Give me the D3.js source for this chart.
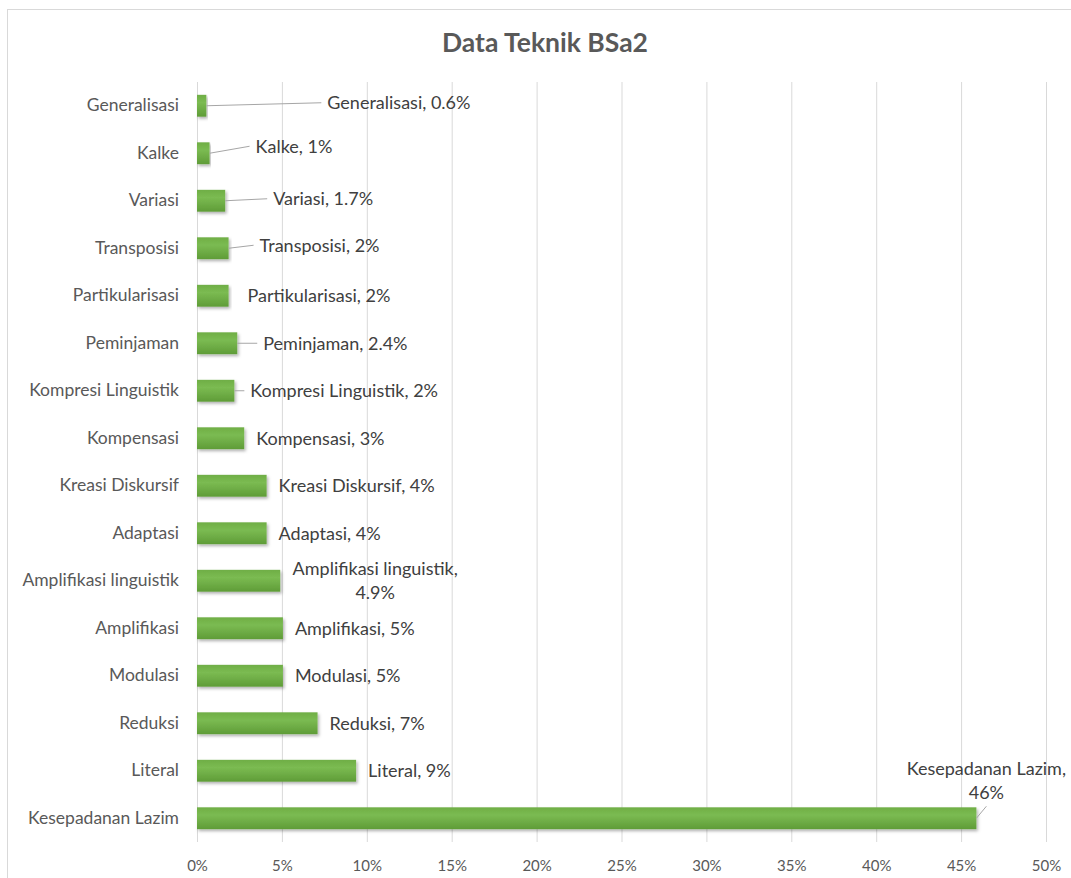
<!DOCTYPE html>
<html>
<head>
<meta charset="utf-8">
<script src="https://cdn.jsdelivr.net/npm/d3@7"></script>
<style>
  body { margin: 0; background: #fff; }
  svg { display: block; font-family: Lato, "Open Sans", sans-serif; }
</style>
</head>
<body>
<div id="container"></div>
<script>
/* DATA */
const categories = ["Generalisasi", "Kalke", "Variasi", "Transposisi", "Partikularisasi",
  "Peminjaman", "Kompresi Linguistik", "Kompensasi", "Kreasi Diskursif", "Adaptasi",
  "Amplifikasi linguistik", "Amplifikasi", "Modulasi", "Reduksi", "Literal", "Kesepadanan Lazim"];
const values = [0.55, 0.74, 1.66, 1.86, 1.86, 2.37, 2.2, 2.78, 4.1, 4.1, 4.9, 5.06, 5.06, 7.1, 9.37, 45.9];
const labelText = [["Generalisasi, 0.6%"], ["Kalke, 1%"], ["Variasi, 1.7%"], ["Transposisi, 2%"],
  ["Partikularisasi, 2%"], ["Peminjaman, 2.4%"], ["Kompresi Linguistik, 2%"], ["Kompensasi, 3%"],
  ["Kreasi Diskursif, 4%"], ["Adaptasi, 4%"], ["Amplifikasi linguistik,", "4.9%"], ["Amplifikasi, 5%"],
  ["Modulasi, 5%"], ["Reduksi, 7%"], ["Literal, 9%"], ["Kesepadanan Lazim,", "46%"]];
const tickValues = [0, 5, 10, 15, 20, 25, 30, 35, 40, 45, 50];

/* LAYOUT: label nudges (dx from bar end, dy from band centre), leader line flag */
const labelNudge = {
  "Generalisasi": { dx: 121, dy: -3, line: true },
  "Kalke": { dx: 46, dy: -7, line: true },
  "Variasi": { dx: 48, dy: -2, line: true },
  "Transposisi": { dx: 31, dy: -3, line: true },
  "Partikularisasi": { dx: 19, dy: 0, line: false },
  "Peminjaman": { dx: 26, dy: 0, line: true },
  "Kompresi Linguistik": { dx: 16, dy: 0, line: true },
  "Amplifikasi linguistik": { dx: 95, dy: 0, center: true },
  "Kesepadanan Lazim": { dx: 10, dy: -38, center: true, line: true }
};

const width = 1071, height = 878;
const margin = { top: 82, bottom: 36, left: 197, right: 25 };

const svg = d3.select("#container").append("svg")
  .attr("width", width).attr("height", height);

// chart border (only top + left visible in the picture)
svg.append("rect")
  .attr("x", 7.5).attr("y", 9.5)
  .attr("width", width + 20).attr("height", height + 20)
  .attr("fill", "none").attr("stroke", "#d9d9d9");

const defs = svg.append("defs");
const grad = defs.append("linearGradient").attr("id", "barGrad")
  .attr("x1", 0).attr("y1", 0).attr("x2", 0).attr("y2", 1);
grad.append("stop").attr("offset", "0%").attr("stop-color", "#6fae45");
grad.append("stop").attr("offset", "35%").attr("stop-color", "#7bbb52");
grad.append("stop").attr("offset", "100%").attr("stop-color", "#5f9c37");
const shadow = defs.append("filter").attr("id", "shadow")
  .attr("x", "-5%").attr("y", "-30%").attr("width", "115%").attr("height", "180%");
shadow.append("feDropShadow").attr("dx", 1.5).attr("dy", 2).attr("stdDeviation", 1.5)
  .attr("flood-color", "#000").attr("flood-opacity", 0.3);

// SCALES
const xScale = d3.scaleLinear().domain([0, 50]).range([margin.left, 1046]);
const yScale = d3.scaleBand().domain(categories)
  .range([margin.top, 842]).paddingInner(0.54).paddingOuter(0.27);

// GRIDLINES
svg.append("g").selectAll("line")
  .data(tickValues)
  .join("line")
  .attr("x1", d => xScale(d) + 0.5).attr("x2", d => xScale(d) + 0.5)
  .attr("y1", margin.top).attr("y2", 842)
  .attr("stroke", "#d9d9d9").attr("stroke-width", 1);

// X AXIS labels
const xAxis = d3.axisBottom(xScale).tickValues(tickValues)
  .tickFormat(d => d + "%").tickSize(0).tickPadding(18);
svg.append("g")
  .attr("transform", `translate(0,842)`)
  .call(xAxis)
  .call(g => g.select(".domain").remove())
  .call(g => g.selectAll("text").attr("fill", "#595959")
    .style("font-size", "15px").style("font-family", "Lato, sans-serif"));

// Y AXIS labels
const yAxis = d3.axisLeft(yScale).tickSize(0).tickPadding(18);
svg.append("g")
  .attr("transform", `translate(${margin.left},0)`)
  .call(yAxis)
  .call(g => g.select(".domain").remove())
  .call(g => g.selectAll("text").attr("fill", "#595959")
    .style("font-size", "17.5px").style("font-family", "Lato, sans-serif"));

// BARS
svg.append("g").selectAll("rect")
  .data(categories)
  .join("rect")
  .attr("x", xScale(0))
  .attr("y", d => yScale(d))
  .attr("width", (d, i) => xScale(values[i]) - xScale(0))
  .attr("height", yScale.bandwidth())
  .attr("fill", "url(#barGrad)")
  .attr("filter", "url(#shadow)");

// DATA LABELS
const lab = svg.append("g");
categories.forEach((c, i) => {
  const nud = labelNudge[c] || { dx: 12, dy: 0 };
  const x0 = xScale(values[i]);
  const cy = yScale(c) + yScale.bandwidth() / 2;
  const lines = labelText[i];
  const tx = x0 + nud.dx;
  const ty = cy + nud.dy;
  if (nud.line) {
    let lx2 = nud.center ? tx : tx - 6;
    let ly2 = nud.center ? cy - 12 : ty;
    lab.append("line")
      .attr("x1", x0).attr("y1", cy)
      .attr("x2", lx2).attr("y2", ly2)
      .attr("stroke", "#a6a6a6").attr("stroke-width", 1);
  }
  const t = lab.append("text")
    .attr("fill", "#404040")
    .style("font-size", "18px")
    .attr("text-anchor", nud.center ? "middle" : "start");
  const lh = 24;
  const startY = ty - (lines.length - 1) * lh / 2;
  lines.forEach((s, k) => {
    t.append("tspan")
      .attr("x", tx)
      .attr("y", startY + k * lh)
      .attr("dy", "0.35em")
      .text(s);
  });
});

// TITLE
svg.append("text")
  .attr("x", 545).attr("y", 43)
  .attr("text-anchor", "middle")
  .attr("dy", "0.35em")
  .attr("fill", "#595959")
  .style("font-size", "26.5px")
  .style("font-weight", "bold")
  .text("Data Teknik BSa2");
</script>
</body>
</html>
